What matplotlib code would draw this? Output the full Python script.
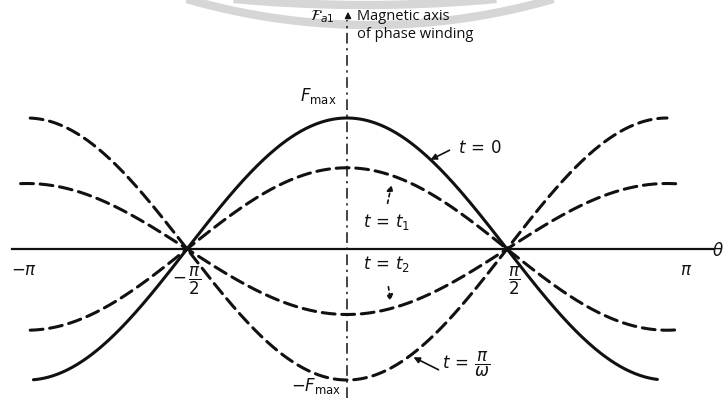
import numpy as np
import matplotlib
matplotlib.use("Agg")
import matplotlib.pyplot as plt

# MMF of one phase winding, F(theta) = A(t) * Fmax * cos(theta), at several instants
instants = ["t = 0", "t = t1", "t = t2", "t = pi/omega"]
amplitudes = [1.0, 0.62, -0.50, -1.0]          # in units of Fmax
theta_start = [-0.98, -0.99, -1.02, -0.99]     # in units of pi
theta_end = [0.97, 1.03, 1.04, 1.00]           # in units of pi
line_styles = ["solid", "dashed", "dashed", "dashed"]

tick_positions = [-1.0, -0.5, 0.5, 1.0]        # in units of pi
tick_labels = [r"$-\pi$", r"$-\,\dfrac{\pi}{2}$", r"$\dfrac{\pi}{2}$", r"$\pi$"]

W, H = 723, 398
fig = plt.figure(figsize=(W / 100, H / 100), dpi=100)
ax = fig.add_axes([0, 0, 1, 1])
ax.axis("off")

# pixel geometry of the drawing: origin, pixels per radian, pixels per Fmax
X0, Y0 = 347, 249
SX = 160 / (np.pi / 2)
SY = 131
ax.set_xlim(-X0 / SX, (W - X0) / SX)
ax.set_ylim(-(H - Y0) / SY, Y0 / SY)


def P(px, py):
    """Convert a position given in figure pixels (from top-left) to data units."""
    return ((px - X0) / SX, (Y0 - py) / SY)


ink = "#111111"

# faint watermark arcs along the top edge: (centre x, centre y, radius) in pixels
for cx, cy, radius in ((370, -635, 660), (365, -1437, 1442)):
    phi = np.linspace(np.deg2rad(240), np.deg2rad(300), 600)
    px = cx + radius * np.cos(phi)
    py = cy - radius * np.sin(phi)
    pts = [P(a, b) for a, b in zip(px, py)]
    ax.plot([p[0] for p in pts], [p[1] for p in pts],
            color="#d6d6d6", lw=6, zorder=0, solid_capstyle="butt")

# horizontal theta axis
x_left, _ = P(12, Y0)
x_right, _ = P(713, Y0)
ax.plot([x_left, x_right], [0, 0], color=ink, lw=1.6, zorder=2)
ax.text(*P(712, 251), r"$\theta$", fontsize=12, ha="left", va="center", color=ink)

# magnetic axis of the phase winding (vertical dash-dot line)
_, y_bot = P(X0, H)
_, y_top = P(X0, 20)
ax.plot([0, 0], [y_bot, y_top], color=ink, lw=1.1, dashes=(7, 3, 1.5, 3), zorder=2)
ax.annotate("", xy=P(X0 + 1, 9), xytext=P(X0 + 1, 21),
            arrowprops=dict(arrowstyle="-|>", color=ink, lw=1.1, mutation_scale=9))

# the MMF curves
for amp, a, b, ls in zip(amplitudes, theta_start, theta_end, line_styles):
    th = np.linspace(a * np.pi, b * np.pi, 500)
    kw = dict(color=ink, lw=2.2, zorder=3, solid_capstyle="round")
    if ls == "dashed":
        ax.plot(th, amp * np.cos(th), dashes=(4.2, 2.2), dash_capstyle="round", **kw)
    else:
        ax.plot(th, amp * np.cos(th), **kw)

# tick labels under the axis
label_px = {-1.0: (24, 270), -0.5: (187, 281), 0.5: (514, 281), 1.0: (686, 270)}
for pos, lab in zip(tick_positions, tick_labels):
    ax.text(*P(*label_px[pos]), lab, fontsize=12, ha="center", va="center", color=ink)

# annotations
ax.text(*P(322, 17), r"$\mathcal{F}_{a1}$", fontsize=11, ha="center", va="center", color=ink)
ax.text(*P(357, 16), "Magnetic axis", fontsize=10.5, ha="left", va="center",
        color=ink, family="Open Sans")
ax.text(*P(357, 35), "of phase winding", fontsize=10.5, ha="left", va="center",
        color=ink, family="Open Sans")
ax.text(*P(318, 96), r"$F_{\max}$", fontsize=12, ha="center", va="center", color=ink)
ax.text(*P(316, 386), r"$-F_{\max}$", fontsize=12, ha="center", va="center", color=ink)

arrow_kw = dict(arrowstyle="-|>", color=ink, lw=1.2, mutation_scale=9)
ax.text(*P(480, 148), r"$t\,=\,0$", fontsize=12, ha="center", va="center", color=ink)
ax.annotate("", xy=P(428, 161), xytext=P(452, 149), arrowprops=arrow_kw)

ax.text(*P(387, 222), r"$t\,=\,t_1$", fontsize=12, ha="center", va="center", color=ink)
ax.annotate("", xy=P(392, 182), xytext=P(387, 206),
            arrowprops=dict(arrow_kw, linestyle=(0, (2, 2))))

ax.text(*P(387, 264), r"$t\,=\,t_2$", fontsize=12, ha="center", va="center", color=ink)
ax.annotate("", xy=P(391, 304), xytext=P(388, 284),
            arrowprops=dict(arrow_kw, linestyle=(0, (2, 2))))

ax.text(*P(466, 364), r"$t\,=\,\dfrac{\pi}{\omega}$", fontsize=12, ha="center",
        va="center", color=ink)
ax.annotate("", xy=P(411, 356), xytext=P(441, 371), arrowprops=arrow_kw)

fig.savefig("out.png", dpi=100, facecolor="white")
